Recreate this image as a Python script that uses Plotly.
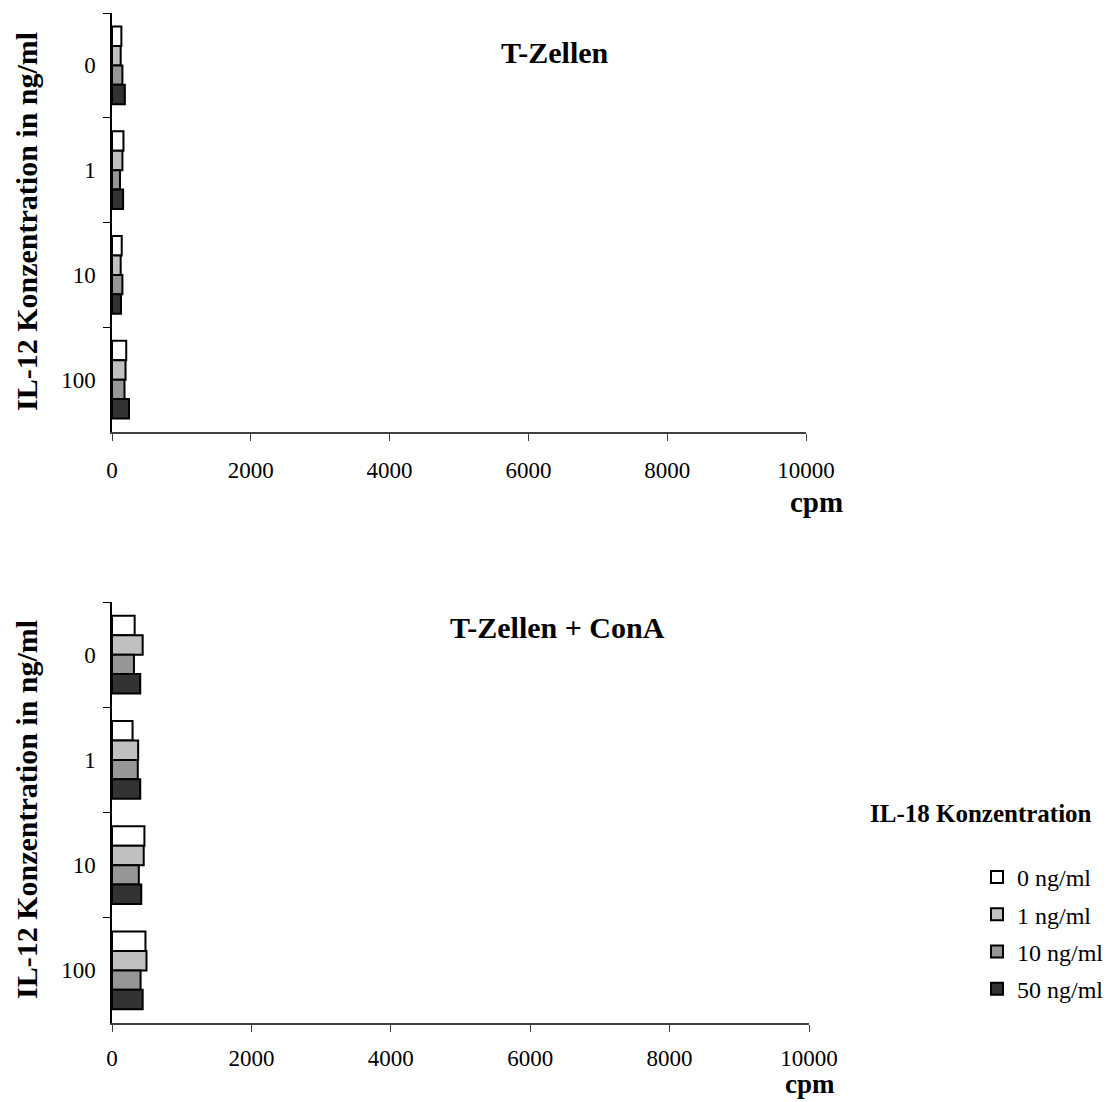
import plotly.graph_objects as go

W, H = 1107, 1102

categories = ["0", "1", "10", "100"]
series_names = ["0 ng/ml", "1 ng/ml", "10 ng/ml", "50 ng/ml"]
colors = ["#ffffff", "#c0c0c0", "#969696", "#333333"]

# cpm values, panel "T-Zellen"
t_0 = [135, 165, 140, 205]
t_1 = [125, 150, 125, 195]
t_10 = [150, 115, 150, 180]
t_50 = [185, 160, 130, 245]

# cpm values, panel "T-Zellen + ConA"
c_0 = [325, 295, 465, 480]
c_1 = [440, 375, 455, 495]
c_10 = [315, 370, 385, 410]
c_50 = [405, 405, 420, 440]

x_ticks = [0, 2000, 4000, 6000, 8000, 10000]

top_series = [t_0, t_1, t_10, t_50]
bot_series = [c_0, c_1, c_10, c_50]

FONT = "Liberation Serif"

def px_x(p):
    return p / W

def px_y(p):
    return 1 - p / H

fig = go.Figure()

for i, (name, col) in enumerate(zip(series_names, colors)):
    fig.add_trace(go.Bar(
        y=categories, x=top_series[i], orientation="h", name=name,
        marker=dict(color=col, line=dict(color="black", width=2)),
        xaxis="x", yaxis="y", legendgroup=name, showlegend=True,
    ))
for i, (name, col) in enumerate(zip(series_names, colors)):
    fig.add_trace(go.Bar(
        y=categories, x=bot_series[i], orientation="h", name=name,
        marker=dict(color=col, line=dict(color="black", width=2)),
        xaxis="x2", yaxis="y2", legendgroup=name, showlegend=False,
    ))

def xax(standoff):
    return dict(range=[0, 10000], tickvals=x_ticks, ticktext=[str(v) for v in x_ticks],
                showline=True, linecolor="#404040", linewidth=1.5, ticks="outside",
                ticklen=7, tickcolor="#404040", showgrid=False, zeroline=False,
                tickfont=dict(family=FONT, size=23, color="black"),
                ticklabelstandoff=standoff, automargin=False, fixedrange=True)

yax = dict(type="category", categoryorder="array", categoryarray=categories,
           autorange="reversed", showline=True, linecolor="black", linewidth=1.5,
           ticks="outside", ticklen=7, tickcolor="black", tickson="boundaries",
           showgrid=False, zeroline=False, automargin=False,
           tickfont=dict(family=FONT, size=23, color="black"), ticklabelstandoff=10)

fig.update_layout(
    width=W, height=H,
    margin=dict(l=0, r=0, t=0, b=0, autoexpand=False),
    paper_bgcolor="white", plot_bgcolor="white",
    barmode="group", bargap=0.26, bargroupgap=0,
    font=dict(family=FONT, color="black"),
    xaxis=dict(domain=[px_x(112), px_x(806)], anchor="y", **xax(10)),
    yaxis=dict(domain=[px_y(432), px_y(13)], anchor="x", **yax),
    xaxis2=dict(domain=[px_x(112), px_x(809)], anchor="y2", **xax(7)),
    yaxis2=dict(domain=[px_y(1023), px_y(602)], anchor="x2", **yax),
    legend=dict(x=px_x(977), y=px_y(855), xanchor="left", yanchor="top",
                font=dict(family=FONT, size=24, color="black"),
                traceorder="grouped", tracegroupgap=3, itemwidth=30,
                bgcolor="rgba(0,0,0,0)"),
    showlegend=True,
)

ann = []
def add_text(text, x, y, size, bold=True, angle=0, yanchor="middle"):
    ann.append(dict(text=f"<b>{text}</b>" if bold else text, x=px_x(x), y=px_y(y),
                    xref="paper", yref="paper", xanchor="center", yanchor=yanchor,
                    showarrow=False, textangle=angle,
                    font=dict(family=FONT, size=size, color="black")))

add_text("T-Zellen", 555, 52, 30)
add_text("T-Zellen + ConA", 557, 627, 30)
add_text("cpm", 816, 502, 29)
add_text("cpm", 810, 1101, 27, yanchor="bottom")
add_text("IL-12 Konzentration in ng/ml", 26, 222, 30, angle=-90)
add_text("IL-12 Konzentration in ng/ml", 26, 810, 30, angle=-90)
add_text("IL-18 Konzentration", 981, 813, 25)
fig.update_layout(annotations=ann)

fig.write_html("out.html")
